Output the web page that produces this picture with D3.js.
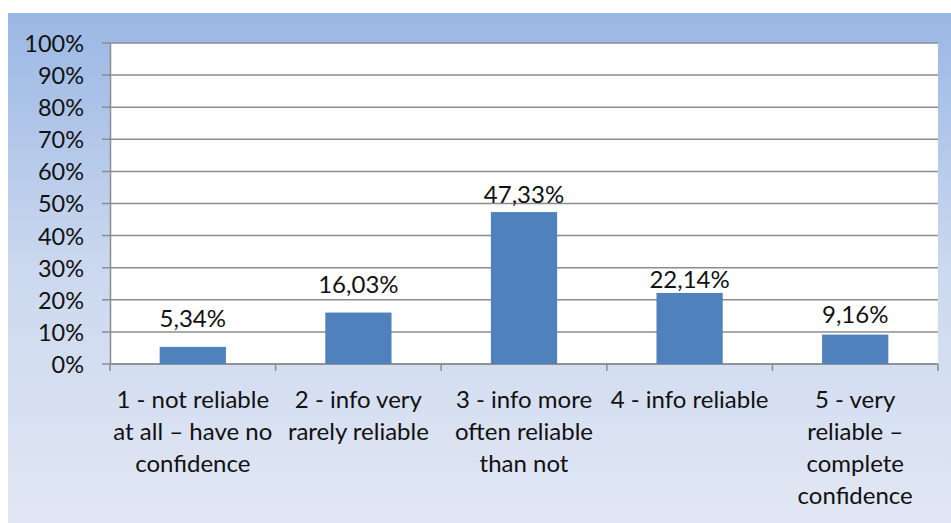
<!DOCTYPE html>
<html>
<head>
<meta charset="utf-8">
<script src="https://cdn.jsdelivr.net/npm/d3@7"></script>
<style>
  html, body { margin: 0; padding: 0; background: #ffffff; }
  svg { display: block; }
  text { font-family: Lato, "Open Sans", sans-serif; fill: #111111; }
</style>
</head>
<body>
<svg id="chart" width="951" height="523"></svg>
<script>
// Share of respondents by reliability rating
const categories = [
  "1 - not reliable\nat all \u2013 have no\nconfidence",
  "2 - info very\nrarely reliable",
  "3 - info more\noften reliable\nthan not",
  "4 - info reliable",
  "5 - very\nreliable \u2013\ncomplete\nconfidence"
];
const values = [5.34, 16.03, 47.33, 22.14, 9.16];
const yTicks = [0, 10, 20, 30, 40, 50, 60, 70, 80, 90, 100];

// Gap in px between each bar top and the baseline of its value label
const labelLift = [20, 20, 9, 5, 12];

const svg = d3.select("#chart");
const W = 951, H = 523;

// Panel background gradient
const defs = svg.append("defs");
const grad = defs.append("linearGradient")
  .attr("id", "bg").attr("x1", 0).attr("y1", 0).attr("x2", 0).attr("y2", 1);
grad.append("stop").attr("offset", "0%").attr("stop-color", "#9ab7e4");
grad.append("stop").attr("offset", "50%").attr("stop-color", "#cbd8ef");
grad.append("stop").attr("offset", "100%").attr("stop-color", "#e1e7f4");

svg.append("rect")
  .attr("x", 8).attr("y", 13).attr("width", W - 8).attr("height", H - 13)
  .attr("fill", "url(#bg)");

const plot = { left: 110, top: 43, right: 938, bottom: 364 };

const x = d3.scaleBand()
  .domain(categories)
  .range([plot.left, plot.right])
  .paddingInner(0.6)
  .paddingOuter(0.3);

const y = d3.scaleLinear().domain([0, 100]).range([plot.bottom, plot.top]);

// Plot area
svg.append("rect")
  .attr("x", plot.left).attr("y", plot.top)
  .attr("width", plot.right - plot.left).attr("height", plot.bottom - plot.top)
  .attr("fill", "#ffffff");

// Gridlines
svg.append("g")
  .selectAll("line")
  .data(yTicks)
  .join("line")
  .attr("x1", plot.left - 8).attr("x2", plot.right)
  .attr("y1", d => y(d)).attr("y2", d => y(d))
  .attr("stroke", "#8c8c8c").attr("stroke-width", 1.5);

// Y axis
const yAxis = d3.axisLeft(y)
  .tickValues(yTicks)
  .tickFormat(d => d + "%")
  .tickSize(0)
  .tickPadding(26);
const gy = svg.append("g")
  .attr("transform", `translate(${plot.left},0)`)
  .call(yAxis);
gy.select(".domain").attr("stroke", "#8c8c8c").attr("stroke-width", 1.5);
gy.selectAll("text")
  .style("font-size", "23.5px")
  .style("font-family", "Lato, sans-serif")
  .attr("dy", "0.36em");

// X axis line and category boundary ticks
const step = (plot.right - plot.left) / categories.length;
const boundaries = d3.range(categories.length + 1).map(i => plot.left + i * step);
svg.append("line")
  .attr("x1", plot.left).attr("x2", plot.right)
  .attr("y1", plot.bottom).attr("y2", plot.bottom)
  .attr("stroke", "#8c8c8c").attr("stroke-width", 1.5);
svg.append("g")
  .selectAll("line")
  .data(boundaries)
  .join("line")
  .attr("x1", d => d).attr("x2", d => d)
  .attr("y1", plot.bottom).attr("y2", plot.bottom + 7)
  .attr("stroke", "#8c8c8c").attr("stroke-width", 1.5);

// Bars
svg.append("g")
  .selectAll("rect")
  .data(values)
  .join("rect")
  .attr("x", (d, i) => x(categories[i]))
  .attr("width", x.bandwidth())
  .attr("y", d => y(d))
  .attr("height", d => y(0) - y(d))
  .attr("fill", "#4f81bd");

// Value labels
const fmt = v => v.toFixed(2).replace(".", ",") + "%";
svg.append("g")
  .selectAll("text")
  .data(values)
  .join("text")
  .attr("x", (d, i) => x(categories[i]) + x.bandwidth() / 2)
  .attr("y", (d, i) => y(d) - labelLift[i])
  .attr("text-anchor", "middle")
  .style("font-size", "24px")
  .text(d => fmt(d));

// Category labels
const catG = svg.append("g");
categories.forEach((c, i) => {
  const cx = x(c) + x.bandwidth() / 2;
  const t = catG.append("text")
    .attr("text-anchor", "middle")
    .style("font-size", "24px");
  c.split("\n").forEach((line, j) => {
    t.append("tspan")
      .attr("x", cx)
      .attr("y", 408 + j * 32)
      .text(line);
  });
});
</script>
</body>
</html>
